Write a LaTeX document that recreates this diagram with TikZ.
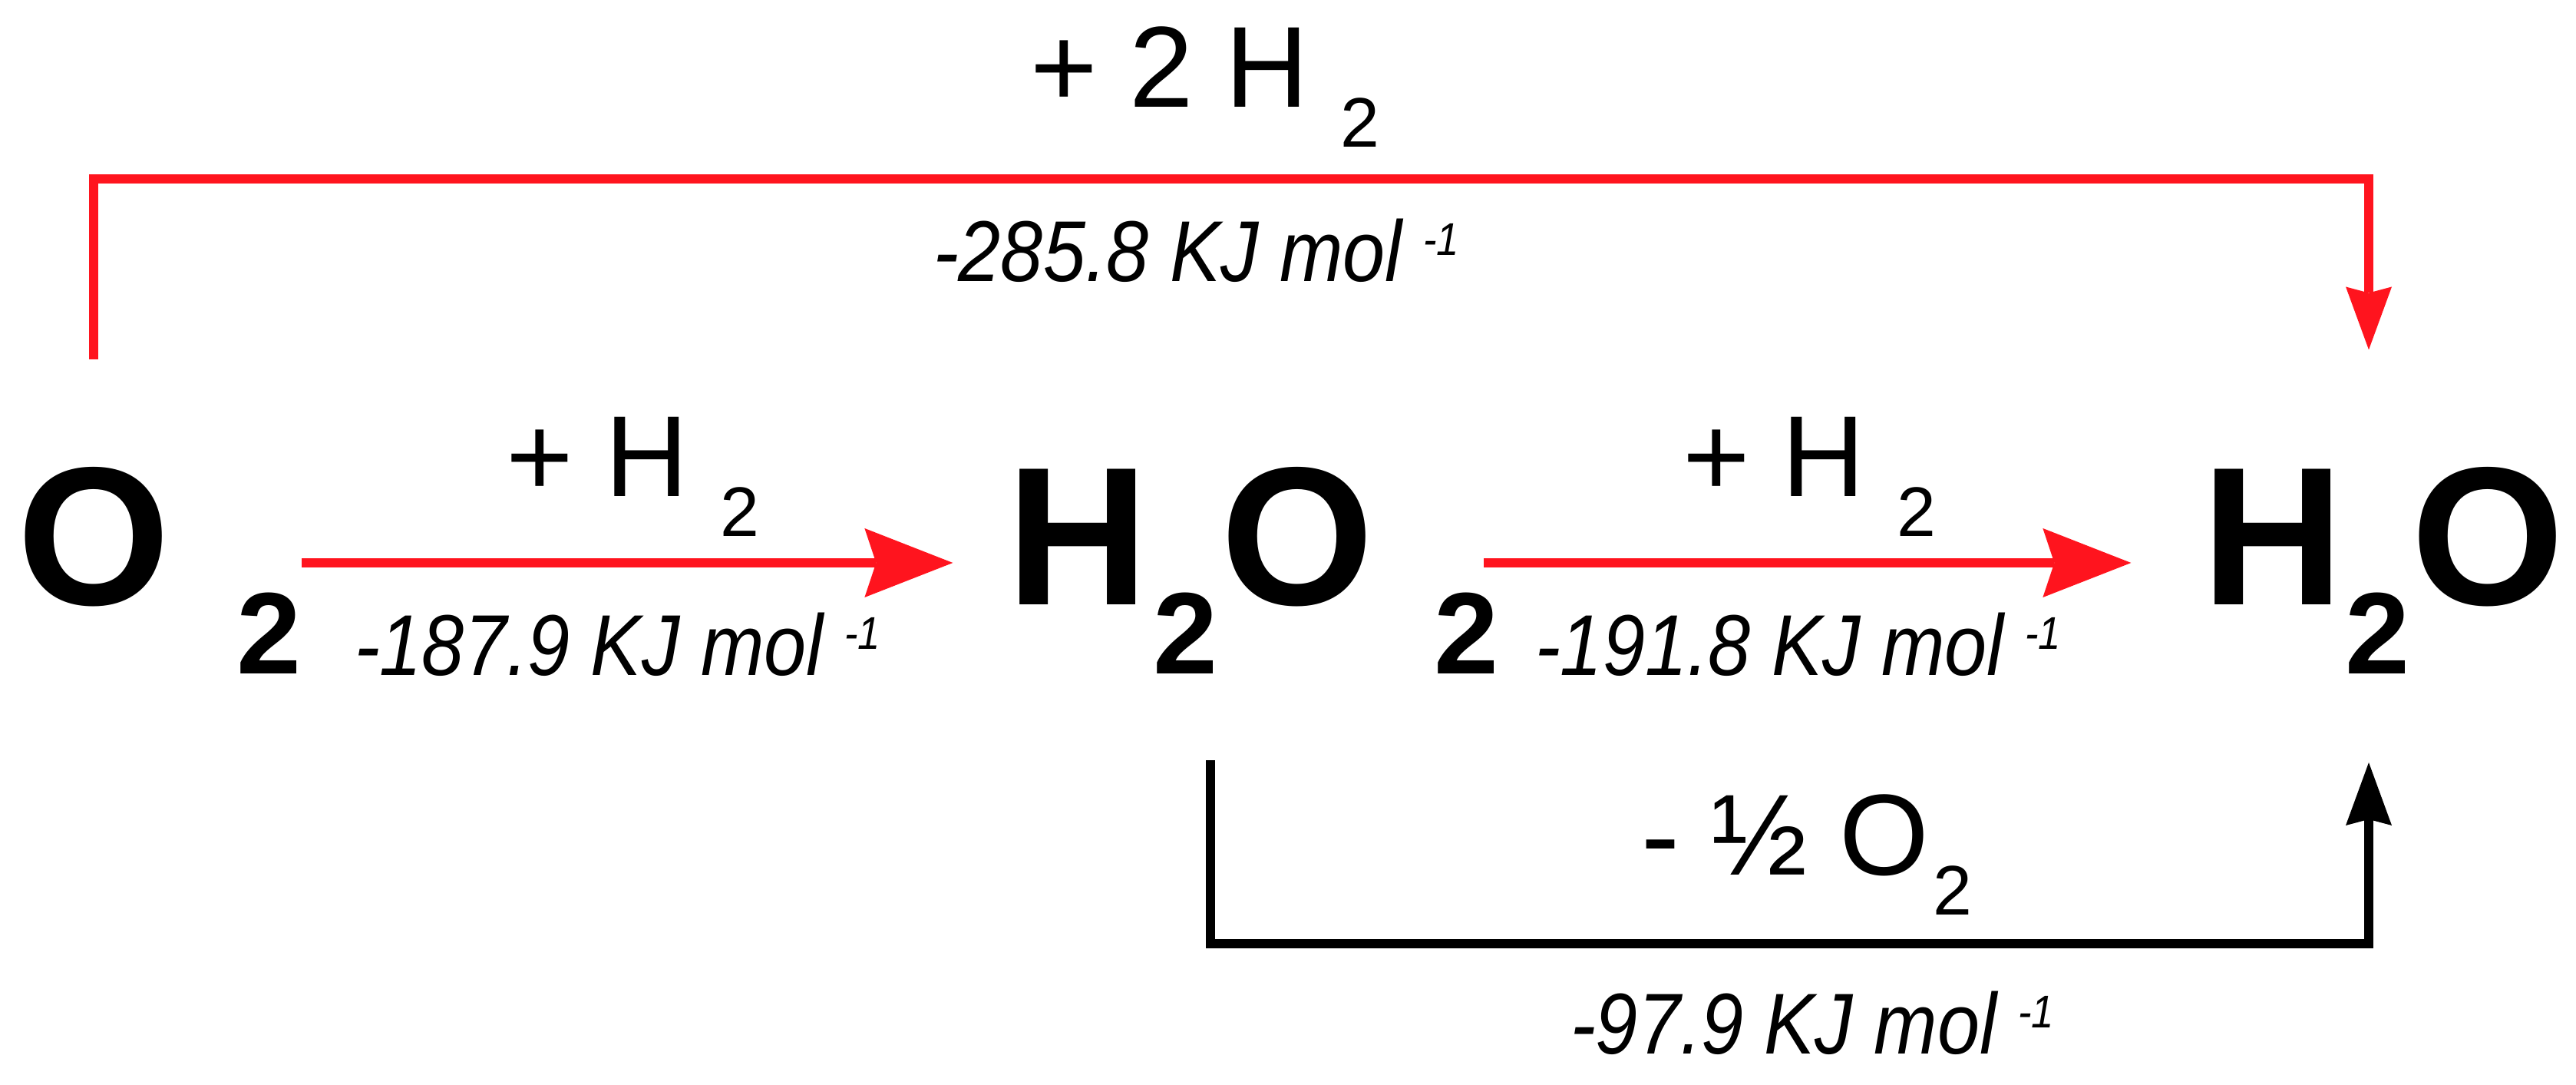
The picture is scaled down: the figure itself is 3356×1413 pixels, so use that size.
\documentclass[tikz,border=0pt]{standalone}
\usepackage{fontspec}
\setmainfont{Liberation Sans}
\newfontfamily\narrowfont[FakeStretch=0.88]{Liberation Sans}
\usetikzlibrary{arrows.meta}
\definecolor{rxnred}{RGB}{255,20,30}

\newcommand{\lowsub}[1]{\raisebox{-5.2mm}{\fontsize{26}{26}\selectfont #1}}
\newcommand{\permol}{\raisebox{3.4mm}{\fontsize{17}{17}\selectfont -1}}

\begin{document}
\begin{tikzpicture}[x=0.1mm, y=0.1mm, inner sep=0pt, outer sep=0pt,
  big/.style={anchor=base, font=\fontsize{73}{73}\selectfont\bfseries},
  bigsub/.style={anchor=base, font=\fontsize{43}{43}\selectfont\bfseries},
  gain/.style={anchor=base west, font=\fontsize{42.7}{44}\selectfont},
  energy/.style={anchor=base west, font=\fontsize{32}{32}\narrowfont\itshape},
  rxn/.style={draw=rxnred, line width=1.2mm, -{Stealth[length=11.5mm, width=9mm, inset=1.5mm, line width=0pt]}},
  hop/.style={line width=1.2mm, -{Stealth[length=8.2mm, width=6mm, inset=0.8mm, line width=0pt]}}]
  \useasboundingbox (0,0) rectangle (3356,1413);

  % molecules
  \node[big] (oxy) at (122,625) {O};
  \node[bigsub] (oxysub) at (351,535) {2};
  \node[big] (perH) at (1404,625) {H};
  \node[bigsub] (perHsub) at (1545,535) {2};
  \node[big] (perO) at (1690,625) {O};
  \node[bigsub] (perOsub) at (1911,535) {2};
  \node[big] (watH) at (2961,625) {H};
  \node[bigsub] (watHsub) at (3097,535) {2};
  \node[big] (watO) at (3241,625) {O};

  % what is added or lost
  \node[gain] (addtwo) at (1342,1273) {+ 2 H \lowsub{2}};
  \node[gain] (addfirst) at (659,766) {+ H \lowsub{2}};
  \node[gain] (addsecond) at (2192,766) {+ H \lowsub{2}};
  \node[gain] (lossox) at (2138,273) {- ½ O\kern1.5pt\lowsub{2}};

  % enthalpies
  \node[energy] (dhtotal) at (1216,1046) {-285.8 KJ mol \permol};
  \node[energy] (dhfirst) at (462,533) {-187.9 KJ mol \permol};
  \node[energy] (dhsecond) at (2000,533) {-191.8 KJ mol \permol};
  \node[energy] (dhloss) at (2046,40) {-97.9 KJ mol \permol};

  \coordinate (row) at (0,680);
  \draw[rxn, shorten >=7mm] (oxysub.east |- row) -- (perH.west |- row);
  \draw[rxn, shorten <=-2mm, shorten >=9.2mm] (perOsub.east |- row) -- (watH.west |- row);

  \draw[hop, rxnred] ([yshift=14.1mm]oxy.north) -- ++(0,235)
    -| ([xshift=-1.1mm, yshift=31.7mm]watHsub.north);
  \draw[hop, black] ([xshift=3.2mm, yshift=-11.2mm]perHsub.south) -- ++(0,-239)
    -| ([xshift=-1.1mm, yshift=-11.5mm]watHsub.south);

\end{tikzpicture}
\end{document}
